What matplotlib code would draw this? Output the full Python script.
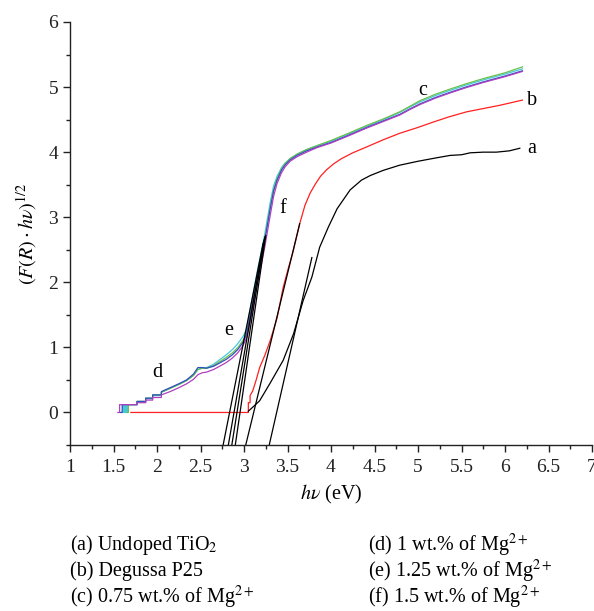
import matplotlib
matplotlib.use("Agg")
import matplotlib.pyplot as plt
from matplotlib.ticker import MultipleLocator

plt.rcParams['font.family'] = ['Liberation Serif', 'DejaVu Serif']
plt.rcParams['mathtext.fontset'] = 'stix'

# ---- data ----
# (a) Undoped TiO2
a_x = [3.05, 3.10, 3.18, 3.30, 3.45, 3.57, 3.68, 3.78, 3.87, 3.97, 4.07, 4.22, 4.35, 4.45,
       4.60, 4.79, 5.00, 5.20, 5.37, 5.50, 5.60, 5.75, 5.90, 6.05, 6.17]
a_y = [0.02, 0.08, 0.18, 0.45, 0.80, 1.21, 1.72, 2.08, 2.54, 2.85, 3.13, 3.42, 3.57, 3.64,
       3.72, 3.80, 3.86, 3.91, 3.95, 3.96, 3.99, 4.00, 4.00, 4.02, 4.06]

# (b) Degussa P25
b_x = [1.70, 3.05, 3.05, 3.07, 3.07, 3.10, 3.14, 3.18, 3.24, 3.30, 3.38, 3.45, 3.51, 3.56,
       3.64, 3.70, 3.76, 3.82, 3.88, 3.95, 4.03, 4.12, 4.25, 4.41, 4.60, 4.79, 5.00, 5.17,
       5.35, 5.56, 5.75, 5.94, 6.20]
b_y = [0.00, 0.00, 0.15, 0.15, 0.26, 0.33, 0.50, 0.69, 0.88, 1.10, 1.45, 1.92, 2.22, 2.45,
       2.90, 3.18, 3.37, 3.51, 3.63, 3.73, 3.82, 3.90, 3.99, 4.08, 4.19, 4.29, 4.38, 4.46,
       4.54, 4.62, 4.67, 4.72, 4.80]

# shared energy grid of the doped samples (c)-(f)
cf_x = [1.70, 1.77, 1.77, 1.87, 1.87, 1.95, 1.95, 2.05, 2.05, 2.15, 2.25, 2.34, 2.42, 2.47,
        2.52, 2.57, 2.65, 2.72, 2.80, 2.87, 2.93, 2.99, 3.03, 3.09, 3.15, 3.24, 3.30, 3.34,
        3.38, 3.43, 3.47, 3.53, 3.61, 3.72, 3.84, 4.00, 4.20, 4.41, 4.60, 4.79, 4.90, 5.02,
        5.20, 5.37, 5.55, 5.75, 6.00, 6.20]
# (c) 0.75 wt.% Mg
c_start_x = [1.66, 1.67, 1.67]
c_start_y = [0.00, 0.00, 0.12]
c_y = [0.12, 0.12, 0.17, 0.17, 0.22, 0.22, 0.27, 0.27, 0.31, 0.37, 0.43, 0.49, 0.57, 0.66,
       0.68, 0.68, 0.72, 0.78, 0.85, 0.92, 1.00, 1.11, 1.23, 1.64, 2.07, 2.67, 3.14, 3.42,
       3.59, 3.74, 3.82, 3.90, 3.97, 4.04, 4.10, 4.18, 4.29, 4.41, 4.51, 4.62, 4.70, 4.79,
       4.89, 4.97, 5.05, 5.13, 5.22, 5.31]
# (d) 1 wt.% Mg
d_start_x = [1.58, 1.60, 1.60]
d_start_y = [0.00, 0.00, 0.12]
d_y = [0.12, 0.12, 0.17, 0.17, 0.22, 0.22, 0.27, 0.27, 0.32, 0.38, 0.44, 0.50, 0.59, 0.69,
       0.69, 0.68, 0.71, 0.76, 0.82, 0.89, 0.97, 1.08, 1.20, 1.62, 2.05, 2.65, 3.12, 3.40,
       3.57, 3.72, 3.80, 3.88, 3.95, 4.02, 4.08, 4.15, 4.26, 4.38, 4.48, 4.58, 4.66, 4.74,
       4.84, 4.92, 5.00, 5.08, 5.17, 5.25]
# (e) 1.25 wt.% Mg
e_start_x = [1.60, 1.61, 1.61, 1.62, 1.63, 1.63, 1.64, 1.65, 1.65, 1.66, 1.67, 1.67, 1.68]
e_start_y = [0.00, 0.00, 0.12, 0.00, 0.00, 0.12, 0.00, 0.00, 0.12, 0.00, 0.00, 0.12, 0.12]
e_y = [0.12, 0.12, 0.16, 0.16, 0.21, 0.21, 0.26, 0.26, 0.31, 0.37, 0.43, 0.49, 0.57, 0.66,
       0.68, 0.69, 0.74, 0.81, 0.89, 0.97, 1.06, 1.17, 1.28, 1.72, 2.15, 2.75, 3.22, 3.48,
       3.63, 3.76, 3.83, 3.90, 3.97, 4.04, 4.10, 4.17, 4.28, 4.40, 4.50, 4.61, 4.69, 4.77,
       4.87, 4.95, 5.03, 5.11, 5.20, 5.28]
# (f) 1.5 wt.% Mg
f_start_x = [1.55, 1.57, 1.57]
f_start_y = [0.00, 0.00, 0.12]
f_y = [0.12, 0.12, 0.15, 0.15, 0.19, 0.19, 0.23, 0.23, 0.27, 0.32, 0.38, 0.44, 0.51, 0.58,
       0.61, 0.62, 0.66, 0.71, 0.77, 0.84, 0.92, 1.03, 1.15, 1.52, 1.95, 2.55, 3.02, 3.32,
       3.52, 3.68, 3.77, 3.86, 3.93, 4.00, 4.07, 4.14, 4.25, 4.37, 4.47, 4.57, 4.65, 4.73,
       4.83, 4.91, 4.99, 5.07, 5.16, 5.24]

# linear fit (tangent) lines: start at bottom of axis, end points
tan_x0 = [2.76, 2.82, 2.86, 2.90, 3.02, 3.29]
tan_y0 = [-0.5, -0.5, -0.5, -0.5, -0.5, -0.5]
tan_x1 = [3.22, 3.23, 3.24, 3.25, 3.64, 3.78]
tan_y1 = [2.60, 2.65, 2.70, 2.72, 2.90, 2.38]

curve_labels = ['a', 'b', 'c', 'd', 'e', 'f']
label_x = [6.31, 6.31, 5.05, 2.00, 2.82, 3.45]
label_y = [4.06, 4.80, 4.95, 0.62, 1.26, 3.14]

legend_left = ["(a) Undoped TiO$_2$", "(b) Degussa P25", "(c) 0.75 wt.% of Mg$^{2+}$"]
legend_right = ["(d) 1 wt.% of Mg$^{2+}$", "(e) 1.25 wt.% of Mg$^{2+}$", "(f) 1.5 wt.% of Mg$^{2+}$"]

# ---- figure ----
fig = plt.figure(figsize=(5.94, 6.11), dpi=100)
ax = fig.add_axes([70/594, 1-445/611, 522/594, 423/611])

lw = 0.9
ax.plot(e_start_x + cf_x, e_start_y + e_y, color='#45c8d8', lw=lw)
ax.plot(c_start_x + cf_x, c_start_y + c_y, color='#6cc04a', lw=lw)
ax.plot(d_start_x + cf_x, d_start_y + d_y, color='#2f4fc0', lw=lw)
ax.plot(f_start_x + cf_x, f_start_y + f_y, color='#b040c0', lw=lw)
ax.plot(b_x, b_y, color='#ff2020', lw=lw)
ax.plot(a_x, a_y, color='black', lw=lw)
for x0, y0, x1, y1 in zip(tan_x0, tan_y0, tan_x1, tan_y1):
    ax.plot([x0, x1], [y0, y1], color='black', lw=0.9)

for t, x, y in zip(curve_labels, label_x, label_y):
    ax.text(x, y, t, fontsize=14.5, ha='center', va='center')

ax.set_xlim(1, 7)
ax.set_ylim(-0.5, 6)
ax.xaxis.set_minor_locator(MultipleLocator(0.25))
ax.yaxis.set_minor_locator(MultipleLocator(0.5))
ax.set_xticks([1, 1.5, 2, 2.5, 3, 3.5, 4, 4.5, 5, 5.5, 6, 6.5, 7])
ax.set_xticklabels(['1', '1.5', '2', '2.5', '3', '3.5', '4', '4.5', '5', '5.5', '6', '6.5', '7'])
ax.set_yticks([0, 1, 2, 3, 4, 5, 6])
ax.set_yticklabels(['0', '1', '2', '3', '4', '5', '6'])
ax.spines['top'].set_visible(False)
ax.spines['right'].set_visible(False)
for s in ['left', 'bottom']:
    ax.spines[s].set_linewidth(1.0)
    ax.spines[s].set_color('#222222')
ax.tick_params(which='major', direction='out', length=5, width=1.0, labelsize=14, colors='#222222')
ax.tick_params(which='minor', direction='out', length=3, width=1.0, colors='#222222')
ax.tick_params(axis='x', pad=5)

ax.set_xlabel(r"$h\nu$ (eV)", fontsize=14.5, labelpad=5)
ax.set_ylabel(r"$(F(R)\cdot h\nu)^{1/2}$", fontsize=14.5, labelpad=7)

for i, t in enumerate(legend_left):
    fig.text(70/594, 1 - (545 + 26*i)/611, t, fontsize=14.5, ha='left', va='center')
for i, t in enumerate(legend_right):
    fig.text(368/594, 1 - (545 + 26*i)/611, t, fontsize=14.5, ha='left', va='center')

fig.savefig('out.png', dpi=100)
